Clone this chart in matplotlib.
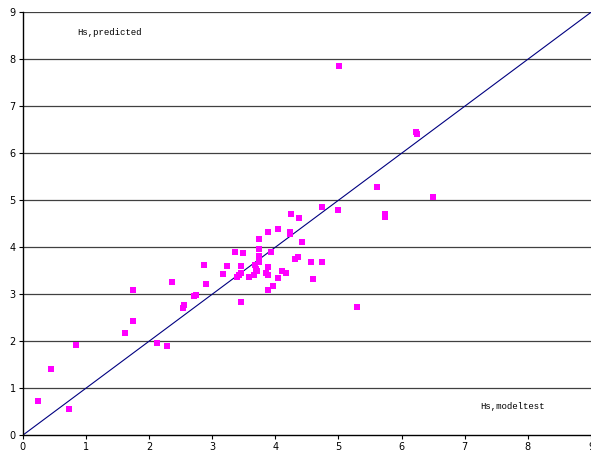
import numpy as np
import matplotlib.pyplot as plt

# Hs modeltest (x) vs Hs predicted (y)
hs_model = [0.25, 0.45, 0.74, 0.84, 1.62, 1.74, 1.74, 2.12, 2.28, 2.37,
            2.54, 2.56, 2.71, 2.74, 2.87, 2.90, 3.18, 3.24, 3.36, 3.39,
            3.43, 3.46, 3.45, 3.46, 3.49, 3.58, 3.66, 3.68, 3.70, 3.71,
            3.74, 3.74, 3.75, 3.74, 3.86, 3.88, 3.89, 3.89, 3.89, 3.94,
            3.97, 4.04, 4.04, 4.11, 4.17, 4.23, 4.24, 4.25, 4.31, 4.36,
            4.37, 4.42, 4.57, 4.59, 4.74, 4.74, 4.99, 5.01, 5.30, 5.61,
            5.74, 5.74, 6.23, 6.25, 6.50]
hs_pred = [0.74, 1.42, 0.55, 1.93, 2.18, 2.44, 3.10, 1.97, 1.91, 3.26,
           2.71, 2.77, 2.96, 2.98, 3.63, 3.21, 3.43, 3.60, 3.91, 3.37,
           3.41, 3.45, 3.61, 2.84, 3.88, 3.37, 3.41, 3.63, 3.54, 3.50,
           4.17, 3.96, 3.81, 3.68, 3.45, 3.42, 4.33, 3.57, 3.09, 3.89,
           3.18, 4.38, 3.35, 3.50, 3.46, 4.32, 4.28, 4.71, 3.74, 3.80,
           4.63, 4.11, 3.68, 3.33, 4.86, 3.69, 4.80, 7.85, 2.72, 5.28,
           4.71, 4.64, 6.45, 6.41, 5.07]

fig = plt.figure(figsize=(5.91, 4.58), dpi=100)
ax = fig.add_axes([0.0384, 0.0496, 0.9616, 0.9236])

ax.set_xlim(0, 9)
ax.set_ylim(0, 9)
ax.set_xticks(range(10))
ax.set_yticks(range(10))

for v in range(1, 10):
    ax.axhline(v, color='#404040', lw=0.9, zorder=1)

ax.plot([0, 9], [0, 9], color='#000080', lw=0.8, zorder=2)
ax.scatter(hs_model, hs_pred, marker='s', s=22, color='#ff00ff', lw=0, zorder=3)

ax.text(0.86, 8.56, 'Hs,predicted', fontsize=6.5, family='Liberation Mono', va='center')
ax.text(7.24, 0.62, 'Hs,modeltest', fontsize=6.5, family='Liberation Mono', va='center')

for s in ['top', 'right']:
    ax.spines[s].set_visible(False)
ax.spines['left'].set_linewidth(1.0)
ax.spines['bottom'].set_linewidth(1.0)
ax.tick_params(labelsize=7, length=3, width=0.8, pad=2)

fig.savefig('out.png', dpi=100)
